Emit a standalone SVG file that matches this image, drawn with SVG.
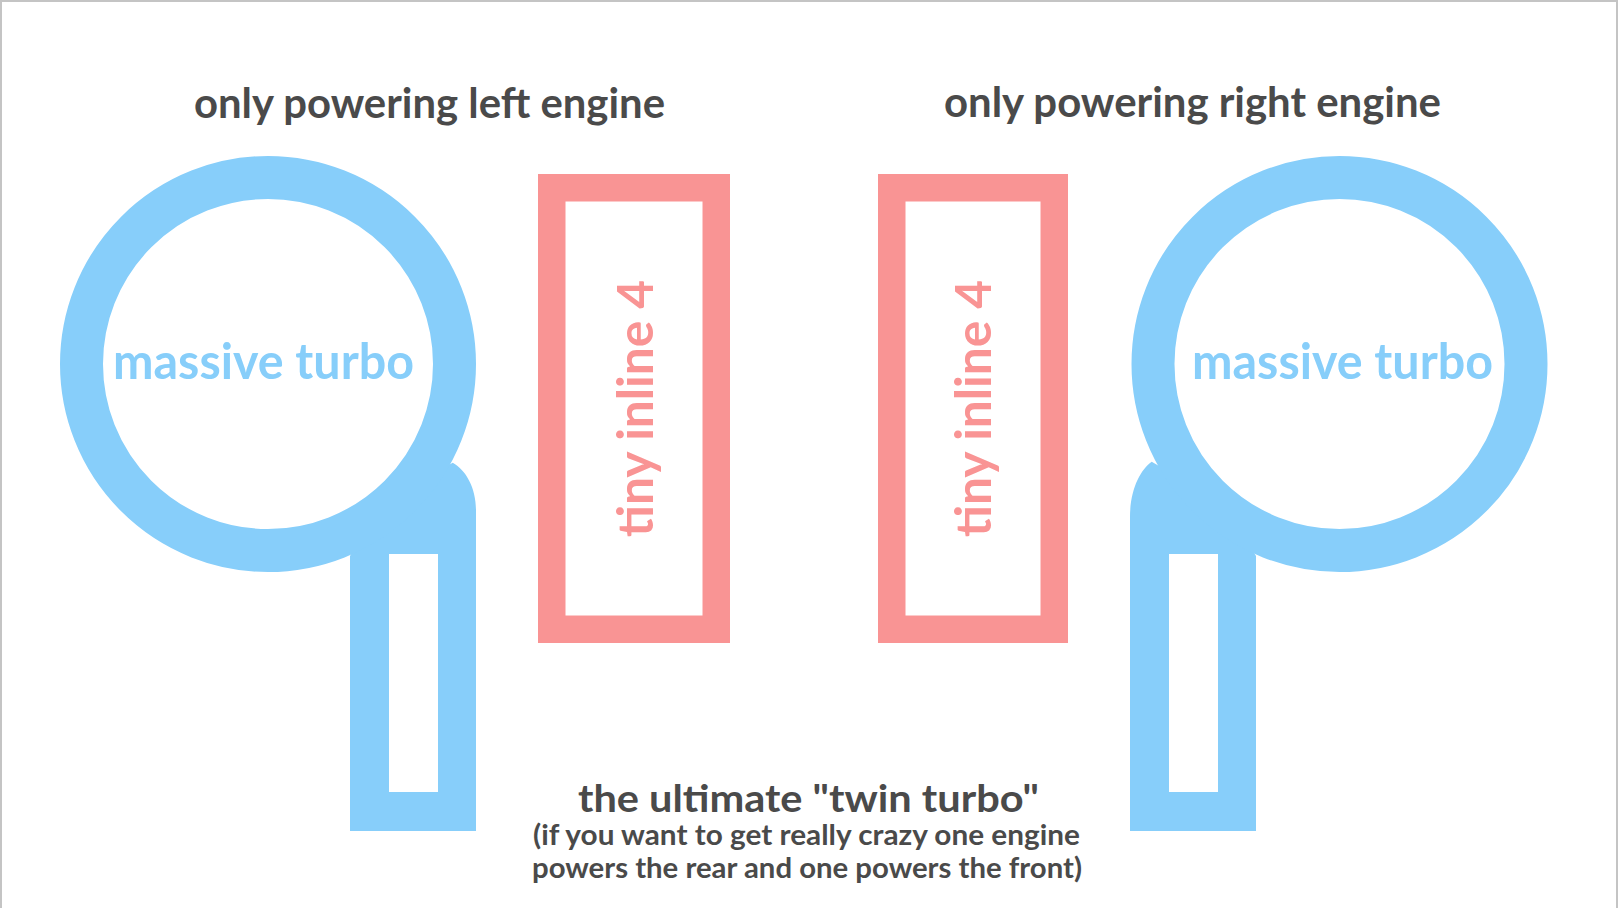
<svg xmlns="http://www.w3.org/2000/svg" width="1618" height="908" viewBox="0 0 1618 908">
<style>
.frame{stroke:#c4c4c4;stroke-width:2;fill:none}
.turbo{fill:none;stroke:#87CEFA;stroke-width:43}
.pipe{fill:#87CEFA;fill-rule:evenodd}
.engine{fill:none;stroke:#F99494;stroke-width:27.5}
.t{font-family:Lato,"Open Sans","Liberation Sans",sans-serif;font-weight:bold;fill:#4a4a4a}
.tb{font-family:Lato,"Open Sans","Liberation Sans",sans-serif;font-weight:bold;fill:#87CEFA;font-size:50px}
.te{font-family:Lato,"Open Sans","Liberation Sans",sans-serif;font-weight:bold;fill:#F99494;font-size:49px}
</style>
<rect width="1618" height="908" fill="#ffffff"/>
<path class="frame" d="M1,908 V1 H1617 V908"/>
<g id="title-left"><text class="t" x="194" y="118" font-size="42" textLength="471" lengthAdjust="spacingAndGlyphs">only powering left engine</text></g>
<g id="title-right"><text class="t" x="944" y="117" font-size="42" textLength="497" lengthAdjust="spacingAndGlyphs">only powering right engine</text></g>
<g id="turbo-left">
<path class="pipe" d="M452.7,462.7 C466,470 476,488 476,510 L476,831 L350,831 L350,556 L360,540 L440,470 Z M389,554 L389,792 L438,792 L438,554 Z"/>
<circle class="turbo" cx="268" cy="364" r="186.5"/>
<text class="tb" x="113" y="379" textLength="301" lengthAdjust="spacingAndGlyphs">massive turbo</text>
</g>
<g id="turbo-right">
<path class="pipe" d="M1151.7,461.7 C1140,470 1130,490 1130,517 L1130,831 L1256,831 L1256,556 L1246,540 L1166,470 Z M1169,554 L1169,792 L1218,792 L1218,554 Z"/>
<circle class="turbo" cx="1339.5" cy="364" r="186.5"/>
<text class="tb" x="1192" y="379" textLength="301" lengthAdjust="spacingAndGlyphs">massive turbo</text>
</g>
<g id="engine-left">
<rect class="engine" x="551.75" y="187.75" width="164.5" height="441.5"/>
<text class="te" transform="translate(653,537) rotate(-90)" x="0" y="0" textLength="257" lengthAdjust="spacingAndGlyphs">tiny inline 4</text>
</g>
<g id="engine-right">
<rect class="engine" x="891.75" y="187.75" width="162.5" height="441.5"/>
<text class="te" transform="translate(991,537) rotate(-90)" x="0" y="0" textLength="257" lengthAdjust="spacingAndGlyphs">tiny inline 4</text>
</g>
<g id="caption">
<text class="t" x="578" y="812" font-size="38" textLength="461" lengthAdjust="spacingAndGlyphs">the ultimate "twin turbo"</text>
<text class="t" x="533" y="845" font-size="28" textLength="547" lengthAdjust="spacingAndGlyphs">(if you want to get really crazy one engine</text>
<text class="t" x="532" y="878" font-size="28" textLength="550" lengthAdjust="spacingAndGlyphs">powers the rear and one powers the front)</text>
</g>
<g id="connectors"></g>
</svg>
